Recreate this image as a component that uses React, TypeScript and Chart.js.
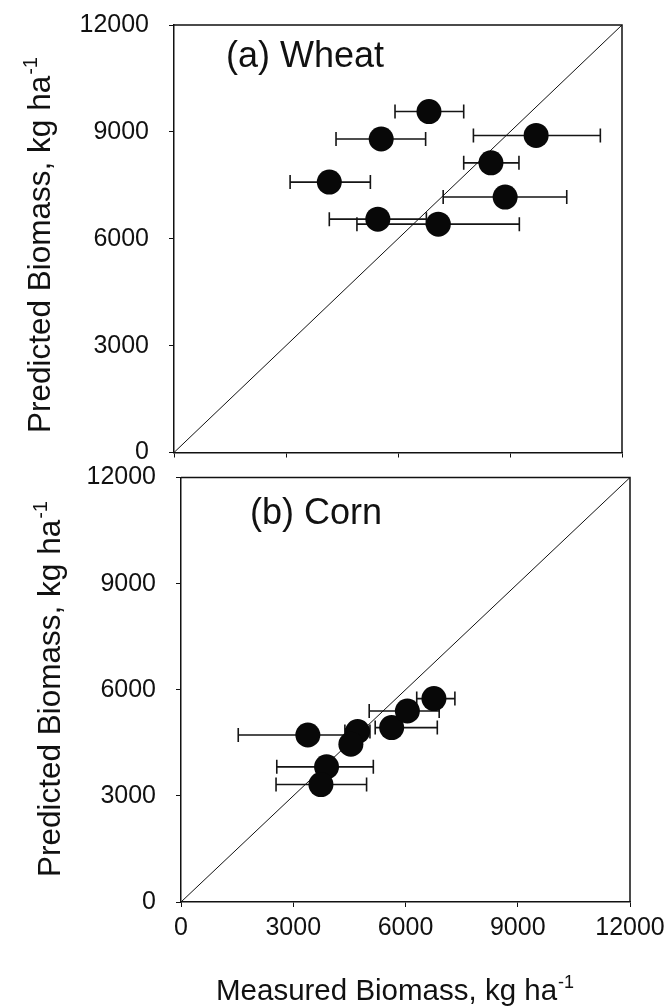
import React, { useEffect, useRef } from 'react';
import { Chart, registerables } from 'chart.js';

Chart.register(...registerables);

// ---- data ----
const tickValues = [0, 3000, 6000, 9000, 12000];
const tickLabels = ['0', '3000', '6000', '9000', '12000'];

const oneToOneX = [0, 12000];
const oneToOneY = [0, 12000];

const wheatMeasured = [6830, 5550, 9700, 8490, 4160, 8870, 5460, 7080];
const wheatPredicted = [9570, 8800, 8900, 8130, 7590, 7170, 6550, 6410];
const wheatMeasuredLow = [5920, 4340, 8020, 7760, 3110, 7210, 4160, 4900];
const wheatMeasuredHigh = [7760, 6740, 11420, 9240, 5260, 10520, 6760, 9250];

const cornMeasured = [3390, 4720, 4540, 5630, 6050, 6760, 3890, 3740];
const cornPredicted = [4720, 4820, 4460, 4930, 5400, 5750, 3820, 3320];
const cornMeasuredLow = [1530, 4380, 4380, 5190, 5030, 6300, 2560, 2540];
const cornMeasuredHigh = [4400, 5050, 4700, 6850, 6900, 7320, 5140, 4960];

const FONT = '"Liberation Sans", Arial, Helvetica, sans-serif';

function drawSupText(
  ctx: CanvasRenderingContext2D,
  main: string,
  sup: string,
  size: number
) {
  ctx.font = `${size}px ${FONT}`;
  ctx.fillText(main, 0, 0);
  const w = ctx.measureText(main).width;
  ctx.font = `${Math.round(size * 0.62)}px ${FONT}`;
  ctx.fillText(sup, w + 1, -size * 0.42);
}

type PanelProps = {
  top: number;
  height: number;
  padTop: number;
  padRight: number;
  yWidth: number;
  xHeight: number;
  showXLabels: boolean;
  xs: number[];
  ys: number[];
  lows: number[];
  highs: number[];
  label: string;
  labelX: number;
  labelY: number;
  yTitleX: number;
  yTitleStart: number;
  pointRadius: number;
  xTitle?: { x: number; y: number };
};

function Panel(p: PanelProps) {
  const ref = useRef<HTMLCanvasElement | null>(null);
  useEffect(() => {
    if (!ref.current) return;
    const errorBars = {
      id: 'errorBars',
      beforeDatasetsDraw(chart: any) {
        const ctx = chart.ctx as CanvasRenderingContext2D;
        const xs = chart.scales.x;
        const ysc = chart.scales.y;
        ctx.save();
        ctx.strokeStyle = '#151515';
        ctx.lineWidth = 1.6;
        for (let i = 0; i < p.ys.length; i++) {
          const x1 = xs.getPixelForValue(p.lows[i]);
          const x2 = xs.getPixelForValue(p.highs[i]);
          const y = ysc.getPixelForValue(p.ys[i]);
          ctx.beginPath();
          ctx.moveTo(x1, y);
          ctx.lineTo(x2, y);
          ctx.moveTo(x1, y - 7);
          ctx.lineTo(x1, y + 7);
          ctx.moveTo(x2, y - 7);
          ctx.lineTo(x2, y + 7);
          ctx.stroke();
        }
        ctx.restore();
      },
    };
    const decorations = {
      id: 'decorations',
      afterDraw(chart: any) {
        const ctx = chart.ctx as CanvasRenderingContext2D;
        const a = chart.chartArea;
        ctx.save();
        ctx.strokeStyle = '#111';
        ctx.lineWidth = 1.5;
        ctx.beginPath();
        ctx.moveTo(a.left, a.top);
        ctx.lineTo(a.right, a.top);
        ctx.lineTo(a.right, a.bottom);
        ctx.stroke();
        ctx.fillStyle = '#111';
        ctx.textBaseline = 'alphabetic';
        ctx.textAlign = 'left';
        ctx.font = `36px ${FONT}`;
        ctx.fillText(p.label, p.labelX, p.labelY);
        // y title
        ctx.save();
        ctx.translate(p.yTitleX, p.yTitleStart);
        ctx.rotate(-Math.PI / 2);
        drawSupText(ctx, 'Predicted Biomass, kg ha', '-1', 31.5);
        ctx.restore();
        if (p.xTitle) {
          ctx.save();
          ctx.translate(p.xTitle.x, p.xTitle.y);
          drawSupText(ctx, 'Measured Biomass, kg ha', '-1', 29.5);
          ctx.restore();
        }
        ctx.restore();
      },
    };
    const tickFont = { family: FONT, size: 25 };
    const chart = new Chart(ref.current, {
      type: 'scatter',
      data: {
        datasets: [
          {
            data: p.xs.map((x, i) => ({ x, y: p.ys[i] })),
            pointRadius: p.pointRadius,
            pointBackgroundColor: '#080808',
            pointBorderWidth: 0,
            order: 0,
          } as any,
          {
            data: oneToOneX.map((x, i) => ({ x, y: oneToOneY[i] })),
            showLine: true,
            pointRadius: 0,
            borderColor: '#111',
            borderWidth: 1,
            order: 1,
          } as any,
        ],
      },
      options: {
        animation: false,
        responsive: false,
        maintainAspectRatio: false,
        events: [],
        layout: { padding: { top: p.padTop, right: p.padRight, left: 0, bottom: 0 } },
        plugins: { legend: { display: false }, tooltip: { enabled: false } },
        scales: {
          x: {
            type: 'linear',
            min: 0,
            max: 12000,
            afterBuildTicks: (s: any) => {
              s.ticks = tickValues.map((v) => ({ value: v }));
            },
            ticks: {
              display: p.showXLabels,
              font: tickFont,
              color: '#111',
              padding: 6,
              maxRotation: 0,
              callback: (v: any) => tickLabels[tickValues.indexOf(Number(v))] ?? '',
            },
            grid: { drawOnChartArea: false, drawTicks: true, tickLength: 5, color: '#111', lineWidth: 1 },
            border: { display: true, color: '#111', width: 1.5 },
            afterFit: (s: any) => {
              s.height = p.xHeight;
              s.paddingLeft = 0;
              s.paddingRight = 0;
            },
          },
          y: {
            type: 'linear',
            min: 0,
            max: 12000,
            afterBuildTicks: (s: any) => {
              s.ticks = tickValues.map((v) => ({ value: v }));
            },
            ticks: {
              font: tickFont,
              color: '#111',
              padding: 20,
              callback: (v: any) => tickLabels[tickValues.indexOf(Number(v))] ?? '',
            },
            grid: { drawOnChartArea: false, drawTicks: true, tickLength: 5, color: '#111', lineWidth: 1 },
            border: { display: true, color: '#111', width: 1.5 },
            afterFit: (s: any) => {
              s.width = p.yWidth;
              s.paddingTop = 0;
              s.paddingBottom = 0;
            },
          },
        },
      },
      plugins: [errorBars, decorations],
    });
    return () => chart.destroy();
  }, []);
  return (
    <canvas
      ref={ref}
      width={670}
      height={p.height}
      style={{ position: 'absolute', left: 0, top: p.top, width: 670, height: p.height }}
    />
  );
}

export default function App() {
  return (
    <div style={{ position: 'absolute', left: 0, top: 0, width: 670, height: 1008, background: '#fff', overflow: 'hidden' }}>
      <Panel
        top={0}
        height={465}
        padTop={25}
        padRight={48}
        yWidth={174}
        xHeight={12}
        showXLabels={false}
        xs={wheatMeasured}
        ys={wheatPredicted}
        lows={wheatMeasuredLow}
        highs={wheatMeasuredHigh}
        label="(a) Wheat"
        labelX={226}
        labelY={67}
        yTitleX={50}
        yTitleStart={433}
        pointRadius={12.5}
      />
      <Panel
        top={465}
        height={543}
        padTop={10}
        padRight={40}
        yWidth={181}
        xHeight={106}
        showXLabels={true}
        xs={cornMeasured}
        ys={cornPredicted}
        lows={cornMeasuredLow}
        highs={cornMeasuredHigh}
        label="(b) Corn"
        labelX={250}
        labelY={59}
        yTitleX={60}
        yTitleStart={412}
        pointRadius={12.5}
        xTitle={{ x: 216, y: 535 }}
      />
    </div>
  );
}
